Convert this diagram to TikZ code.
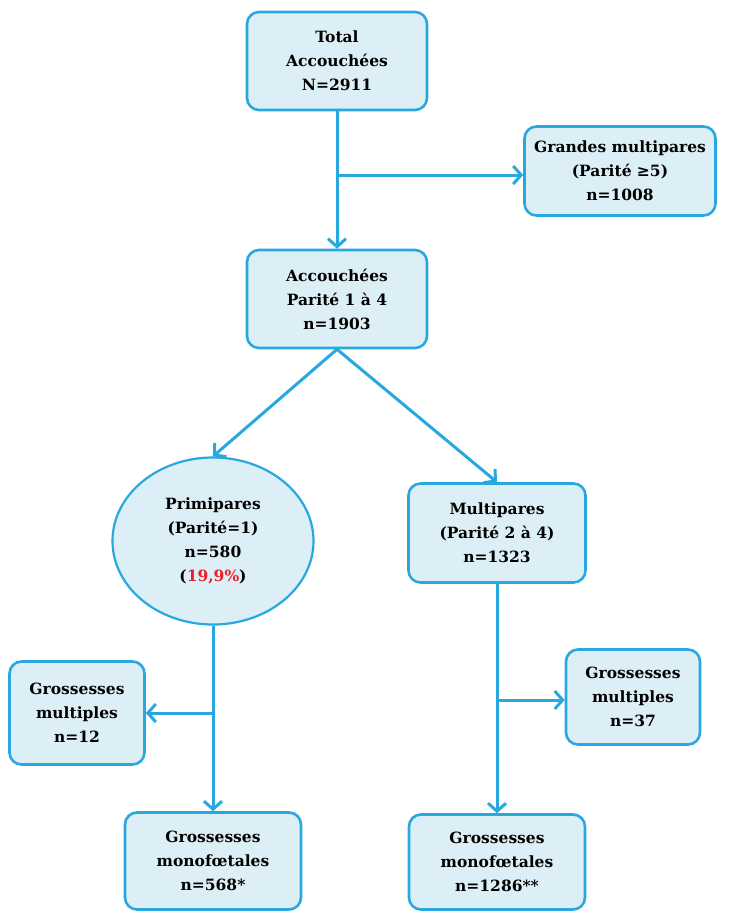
\documentclass[tikz,border=0pt]{standalone}
\usepackage{fontspec}
\setmainfont{DejaVu Serif}
\usetikzlibrary{arrows.meta,shapes.geometric}
\definecolor{lineblue}{HTML}{29A8E0}
\definecolor{fillblue}{HTML}{DDEFF6}
\definecolor{pctred}{HTML}{E8202A}
\begin{document}
\begin{tikzpicture}[x=1pt,y=-1pt,
  box/.style={draw=lineblue,fill=fillblue,line width=2.6pt,rounded corners=12pt,
    align=center,font=\bfseries\fontsize{15.5}{24}\selectfont,inner sep=0pt},
  ell/.style={draw=lineblue,fill=fillblue,line width=2.2pt,ellipse,
    align=center,font=\bfseries\fontsize{15.5}{24}\selectfont,inner sep=0pt,
    minimum width=201pt,minimum height=167pt},
  conn/.style={draw=lineblue,line width=3pt},
  arr/.style={conn,-{Straight Barb[length=8pt,width=18pt,line width=3pt]}}]
\useasboundingbox (0,0) rectangle (734,915);
\fill[white] (0,0) rectangle (734,915);
\node[box,minimum width=180pt,minimum height=98pt] (total) at (337,61) {Total\\Accouchées\\N=2911};
\node[box,minimum width=191pt,minimum height=89pt] (grandes) at (620,171) {Grandes multipares\\(Parité \symbol{"2265}5)\\n=1008};
\node[box,minimum width=180pt,minimum height=98pt] (acc) at (337,299) {Accouchées\\Parité 1 à 4\\n=1903};
\node[ell] (prim) at (213,541) {Primipares\\(Parité=1)\\n=580\\({\color{pctred}19,9\%})};
\node[box,minimum width=177pt,minimum height=99pt] (multi) at (497,533) {Multipares\\(Parité 2 à 4)\\n=1323};
\node[box,minimum width=135pt,minimum height=103pt] (gml) at (77,713) {Grossesses\\multiples\\n=12};
\node[box,minimum width=176pt,minimum height=97pt] (gmol) at (213,861) {Grossesses\\monofœtales\\n=568*};
\node[box,minimum width=134pt,minimum height=95pt] (gmr) at (633,697) {Grossesses\\multiples\\n=37};
\node[box,minimum width=176pt,minimum height=95pt] (gmor) at (497,862) {Grossesses\\monofœtales\\n=1286**};
\coordinate (j1) at (337,175);
\coordinate (j2) at (213,713);
\coordinate (j3) at (497,700);
\draw[arr] (total.south) -- (acc.north);
\draw[arr] (j1) -- (grandes.west |- j1);
\draw[arr] (acc.south) -- (prim.north);
\draw[arr] (acc.south) -- (multi.north);
\draw[arr] (prim.south) -- (gmol.north);
\draw[arr] (j2) -- (gml.east |- j2);
\draw[arr] (multi.south) -- (gmor.north);
\draw[arr] (j3) -- (gmr.west |- j3);
\end{tikzpicture}
\end{document}
